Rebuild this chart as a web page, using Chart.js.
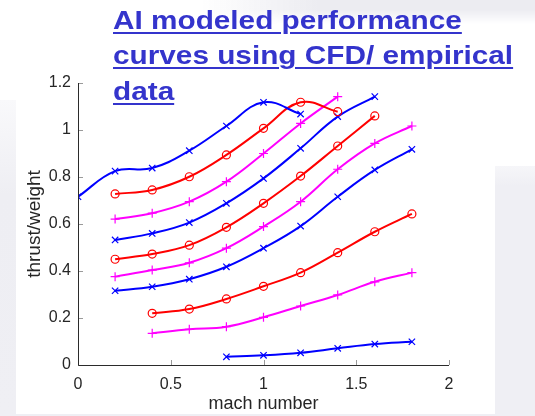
<!DOCTYPE html>
<html>
<head>
<meta charset="utf-8">
<script src="https://cdn.jsdelivr.net/npm/chart.js@4"></script>
<style>
  html, body { margin: 0; padding: 0; background: #ffffff; }
  #wrap { position: relative; width: 535px; height: 416px; overflow: hidden; background: #ffffff; }
  .bg { position: absolute; }
  #c { position: absolute; left: 0; top: 0; }
  #title {
    position: absolute; left: 113px; top: 3px;
    font-family: "Liberation Sans", Arial, sans-serif; font-weight: bold;
    font-size: 25px; line-height: 35.3px; color: #3434cc;
    text-decoration: underline; text-decoration-thickness: 2px; text-underline-offset: 3px;
    transform: scaleX(1.19); transform-origin: 0 0; white-space: nowrap;
  }
</style>
</head>
<body>
<div id="wrap">
  <div class="bg" style="left:0;top:100px;width:16px;height:316px;background:linear-gradient(180deg,#f9f9fb 0%,#eeeef3 30%,#efeff4 100%);"></div>
  <div class="bg" style="left:495px;top:166px;width:40px;height:250px;background:linear-gradient(180deg,#f6f6f9 0%,#efeff4 8%,#efeff4 100%);"></div>
  <div class="bg" style="left:0;top:414px;width:535px;height:2px;background:#efeff4;"></div>
  <div class="bg" style="left:200px;top:0;width:335px;height:24px;background:linear-gradient(90deg,rgba(236,236,241,0) 0%,rgba(236,236,241,1) 35%,rgba(236,236,241,1) 100%);-webkit-mask-image:linear-gradient(180deg,#000 0%,#000 40%,transparent 100%);mask-image:linear-gradient(180deg,#000 0%,#000 40%,transparent 100%);"></div>
  <canvas id="c" width="535" height="416"></canvas>
  <div id="title">AI modeled performance<br>curves using CFD/ empirical<br>data</div>
</div>
<script>
// ---- data ----
const machNumbers = [0, 0.2, 0.4, 0.6, 0.8, 1.0, 1.2, 1.4, 1.6, 1.8];

const curve1 = [0.716, 0.825, 0.838, 0.912, 1.017, 1.118, 1.068, null, null, null];   // blue x
const curve2 = [null, 0.728, 0.745, 0.801, 0.894, 1.007, 1.118, 1.078, null, null];   // red o
const curve3 = [null, 0.621, 0.646, 0.695, 0.780, 0.900, 1.028, 1.142, null, null];   // magenta +
const curve4 = [null, 0.532, 0.560, 0.606, 0.688, 0.794, 0.922, 1.057, 1.142, null];  // blue x
const curve5 = [null, 0.450, 0.472, 0.510, 0.586, 0.688, 0.804, 0.932, 1.060, null];  // red o
const curve6 = [null, 0.376, 0.404, 0.435, 0.497, 0.589, 0.695, 0.833, 0.943, 1.017]; // magenta +
const curve7 = [null, 0.316, 0.333, 0.365, 0.418, 0.497, 0.591, 0.716, 0.830, 0.918]; // blue x
const curve8 = [null, null, 0.220, 0.238, 0.281, 0.335, 0.393, 0.478, 0.567, 0.643];  // red o
const curve9 = [null, null, 0.135, 0.152, 0.163, 0.203, 0.251, 0.298, 0.354, 0.393];  // magenta +
const curve10 = [null, null, null, null, 0.035, 0.041, 0.052, 0.071, 0.089, 0.099];   // blue x

const xTickValues = [0, 0.5, 1, 1.5, 2];
const xTickLabels = ["0", "0.5", "1", "1.5", "2"];
const yTickValues = [0, 0.2, 0.4, 0.6, 0.8, 1, 1.2];
const yTickLabels = ["0", "0.2", "0.4", "0.6", "0.8", "1", "1.2"];

const xTitle = "mach number";
const yTitle = "thrust/weight";

// ---- styles ----
const BLUE = "#0000ff", RED = "#ff0000", MAGENTA = "#ff00ff";
const seriesDefs = [
  [curve1, BLUE, "crossRot"], [curve2, RED, "circle"], [curve3, MAGENTA, "cross"],
  [curve4, BLUE, "crossRot"], [curve5, RED, "circle"], [curve6, MAGENTA, "cross"],
  [curve7, BLUE, "crossRot"], [curve8, RED, "circle"], [curve9, MAGENTA, "cross"],
  [curve10, BLUE, "crossRot"]
];

const datasets = seriesDefs.map(([vals, color, marker]) => ({
  data: machNumbers.map((x, i) => (vals[i] === null ? null : { x: x, y: vals[i] })).filter(p => p !== null),
  borderColor: color,
  backgroundColor: "rgba(0,0,0,0)",
  borderWidth: 2,
  tension: 0.4,
  pointStyle: marker,
  pointRadius: marker === "circle" ? 4 : 4.5,
  pointBorderWidth: 1.2,
  pointBorderColor: color,
  pointBackgroundColor: "rgba(0,0,0,0)",
  fill: false
}));

const AXIS = "#2b2b2b", TICKC = "#9a9a9a";

const inwardTicks = {
  id: "inwardTicks",
  afterDraw(chart) {
    const ctx = chart.ctx, xs = chart.scales.x, ys = chart.scales.y;
    const a = chart.chartArea;
    ctx.save();
    ctx.lineWidth = 1;
    ctx.strokeStyle = TICKC;
    ctx.beginPath();
    xTickValues.forEach(v => {
      const px = Math.round(xs.getPixelForValue(v)) + 0.5;
      ctx.moveTo(px, a.bottom); ctx.lineTo(px, a.bottom - 5);
    });
    yTickValues.forEach(v => {
      const py = Math.round(ys.getPixelForValue(v)) + 0.5;
      ctx.moveTo(a.left, py); ctx.lineTo(a.left + 5, py);
    });
    ctx.stroke();
    ctx.strokeStyle = AXIS;
    ctx.beginPath();
    ctx.moveTo(Math.round(a.left) + 0.5, a.top);
    ctx.lineTo(Math.round(a.left) + 0.5, Math.round(a.bottom) + 0.5);
    ctx.lineTo(a.right, Math.round(a.bottom) + 0.5);
    ctx.stroke();
    ctx.restore();
  }
};

new Chart(document.getElementById("c"), {
  type: "line",
  data: { datasets },
  plugins: [inwardTicks],
  options: {
    responsive: false,
    animation: false,
    devicePixelRatio: 1,
    layout: { padding: { left: 0, right: 86, top: 83, bottom: 0 } },
    plugins: { legend: { display: false }, tooltip: { enabled: false } },
    scales: {
      x: {
        type: "linear", min: 0, max: 2,
        afterFit: s => { s.height = 51; },
        afterBuildTicks: s => { s.ticks = xTickValues.map(v => ({ value: v })); },
        grid: { display: false, drawTicks: false },
        border: { display: false },
        ticks: {
          padding: 10, color: "#262626", maxRotation: 0, autoSkip: false,
          font: { family: "'Liberation Sans', Arial, sans-serif", size: 16 },
          callback: (v) => { const i = xTickValues.indexOf(v); return i >= 0 ? xTickLabels[i] : ""; }
        },
        title: {
          display: true, text: xTitle, color: "#262626",
          font: { family: "'Liberation Sans', Arial, sans-serif", size: 18 },
          padding: { top: 0, bottom: 1 }
        }
      },
      y: {
        type: "linear", min: 0, max: 1.2,
        afterFit: s => { s.width = 78; },
        afterBuildTicks: s => { s.ticks = yTickValues.map(v => ({ value: v })); },
        grid: { display: false, drawTicks: false },
        border: { display: false },
        ticks: {
          padding: 7, color: "#262626", autoSkip: false,
          font: { family: "'Liberation Sans', Arial, sans-serif", size: 16 },
          callback: (v) => { const i = yTickValues.findIndex(t => Math.abs(t - v) < 1e-9); return i >= 0 ? yTickLabels[i] : ""; }
        },
        title: {
          display: true, text: yTitle, color: "#262626",
          font: { family: "'Liberation Sans', Arial, sans-serif", size: 19 },
          padding: { top: 23, bottom: 0 }
        }
      }
    }
  }
});
</script>
</body>
</html>
